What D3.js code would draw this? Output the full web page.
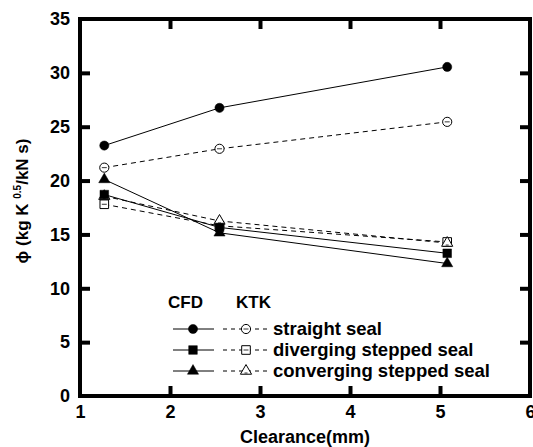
<!DOCTYPE html>
<html>
<head>
<meta charset="utf-8">
<script src="https://cdn.jsdelivr.net/npm/d3@7"></script>
<style>
  html, body { margin: 0; padding: 0; background: #fff; }
  svg { display: block; font-family: "Liberation Sans", Arial, sans-serif; font-weight: bold; }
</style>
</head>
<body>
<svg id="chart" width="533" height="447"></svg>
<script>
// Clearance positions (mm)
const clearance = [1.27, 2.55, 5.08];

// CFD results (solid lines, filled markers)
const cfdStraight   = [23.25, 26.75, 30.55];
const cfdDiverging  = [18.7, 15.65, 13.25];
const cfdConverging = [20.1, 15.15, 12.3];

// KTK results (dashed lines, open markers)
const ktkStraight   = [21.2, 22.95, 25.45];
const ktkDiverging  = [17.8, 15.8, 14.3];
const ktkConverging = [18.55, 16.25, 14.2];

const xTicks = [1, 2, 3, 4, 5, 6];
const yTicks = [0, 5, 10, 15, 20, 25, 30, 35];

const seriesNames = ["straight seal", "diverging stepped seal", "converging stepped seal"];
const markerShapes = ["circle", "square", "triangle"];

const svg = d3.select("#chart");
const x = d3.scaleLinear().domain([1, 6]).range([80, 530]);
const y = d3.scaleLinear().domain([0, 35]).range([396, 19]);

const symbolType = { circle: d3.symbolCircle, square: d3.symbolSquare, triangle: d3.symbolTriangle };
const symbolSize = { circle: 66, square: 74, triangle: 54 };

function drawMarker(g, shape, cx, cy, filled) {
  const path = d3.symbol().type(symbolType[shape]).size(symbolSize[shape])();
  const m = g.append("g").attr("transform", `translate(${cx},${cy})`);
  m.append("path").attr("d", path)
    .attr("fill", filled ? "#000" : "#fff")
    .attr("stroke", "#000")
    .attr("stroke-width", filled ? 0.5 : 1);
  if (!filled && shape !== "triangle") {
    m.append("line").attr("x1", -2.5).attr("x2", 2.5).attr("y1", 0).attr("y2", 0)
      .attr("stroke", "#000").attr("stroke-width", 0.8);
  }
  if (!filled && shape === "triangle") {
    m.append("line").attr("x1", -1.5).attr("x2", 1.5).attr("y1", 2).attr("y2", 2)
      .attr("stroke", "#000").attr("stroke-width", 0.8);
  }
}

const line = d3.line().x((d, i) => x(clearance[i])).y(d => y(d));

const ktk = [ktkStraight, ktkDiverging, ktkConverging];
const cfd = [cfdStraight, cfdDiverging, cfdConverging];

const plot = svg.append("g");
// KTK dashed lines
ktk.forEach(vals => {
  plot.append("path").attr("d", line(vals)).attr("fill", "none")
    .attr("stroke", "#000").attr("stroke-width", 1).attr("stroke-dasharray", "5,4");
});
// CFD solid lines
cfd.forEach(vals => {
  plot.append("path").attr("d", line(vals)).attr("fill", "none")
    .attr("stroke", "#000").attr("stroke-width", 1);
});
// markers
ktk.forEach((vals, s) => vals.forEach((v, i) => drawMarker(plot, markerShapes[s], x(clearance[i]), y(v), false)));
cfd.forEach((vals, s) => vals.forEach((v, i) => drawMarker(plot, markerShapes[s], x(clearance[i]), y(v), true)));

// Frame with inward ticks on all four sides
const frame = svg.append("g");
frame.append("rect").attr("x", x(1)).attr("y", y(35)).attr("width", x(6) - x(1)).attr("height", y(0) - y(35))
  .attr("fill", "none").attr("stroke", "#000").attr("stroke-width", 4);

const tickLen = 10;
const axB = d3.axisBottom(x).tickValues(xTicks).tickSizeInner(-tickLen).tickSizeOuter(0).tickPadding(9).tickFormat(d3.format("d"));
const axT = d3.axisTop(x).tickValues(xTicks.slice(1, -1)).tickSizeInner(-tickLen).tickSizeOuter(0).tickFormat("");
const axL = d3.axisLeft(y).tickValues(yTicks).tickSizeInner(-tickLen).tickSizeOuter(0).tickPadding(10).tickFormat(d3.format("d"));
const axR = d3.axisRight(y).tickValues(yTicks.slice(1, -1)).tickSizeInner(-tickLen).tickSizeOuter(0).tickFormat("");

function styleAxis(g) {
  g.select(".domain").remove();
  g.selectAll(".tick line").attr("stroke", "#000").attr("stroke-width", 4);
  g.selectAll(".tick text").attr("fill", "#000").attr("font-size", 18).attr("font-weight", "bold")
    .attr("font-family", "Liberation Sans, Arial, sans-serif");
}
const gB = svg.append("g").attr("transform", `translate(0,${y(0)})`).call(axB).call(styleAxis);
svg.append("g").attr("transform", `translate(0,${y(35)})`).call(axT).call(styleAxis);
const gL = svg.append("g").attr("transform", `translate(${x(1)},0)`).call(axL).call(styleAxis);
svg.append("g").attr("transform", `translate(${x(6)},0)`).call(axR).call(styleAxis);
// end ticks at the corners coincide with the frame
gB.selectAll(".tick").filter(d => d === 1 || d === 6).select("line").remove();
gL.selectAll(".tick").filter(d => d === 0 || d === 35).select("line").remove();

// Axis titles
svg.append("text").attr("x", 305).attr("y", 443).attr("text-anchor", "middle")
  .attr("font-size", 18).text("Clearance(mm)");

const yt = svg.append("text").attr("transform", "translate(28,201) rotate(-90)")
  .attr("text-anchor", "middle").attr("font-size", 17);
yt.append("tspan").text("\u03d5 (kg K ");
yt.append("tspan").attr("font-size", 10).attr("dy", -7).text("0.5");
yt.append("tspan").attr("dy", 7).text("/kN s)");

// Legend
const lg = svg.append("g");
lg.append("text").attr("x", 168).attr("y", 308).attr("font-size", 17).text("CFD");
lg.append("text").attr("x", 236).attr("y", 308).attr("font-size", 17).text("KTK");
const rowY = [329, 350, 371];
seriesNames.forEach((name, i) => {
  const ry = rowY[i];
  lg.append("line").attr("x1", 173).attr("x2", 214).attr("y1", ry).attr("y2", ry).attr("stroke", "#000").attr("stroke-width", 1);
  drawMarker(lg, markerShapes[i], 193, ry, true);
  lg.append("line").attr("x1", 223).attr("x2", 270).attr("y1", ry).attr("y2", ry).attr("stroke", "#000")
    .attr("stroke-width", 1).attr("stroke-dasharray", "4,4");
  drawMarker(lg, markerShapes[i], 246, ry, false);
  lg.append("text").attr("x", 273).attr("y", ry + 6).attr("font-size", 18.5).text(name);
});
</script>
</body>
</html>
